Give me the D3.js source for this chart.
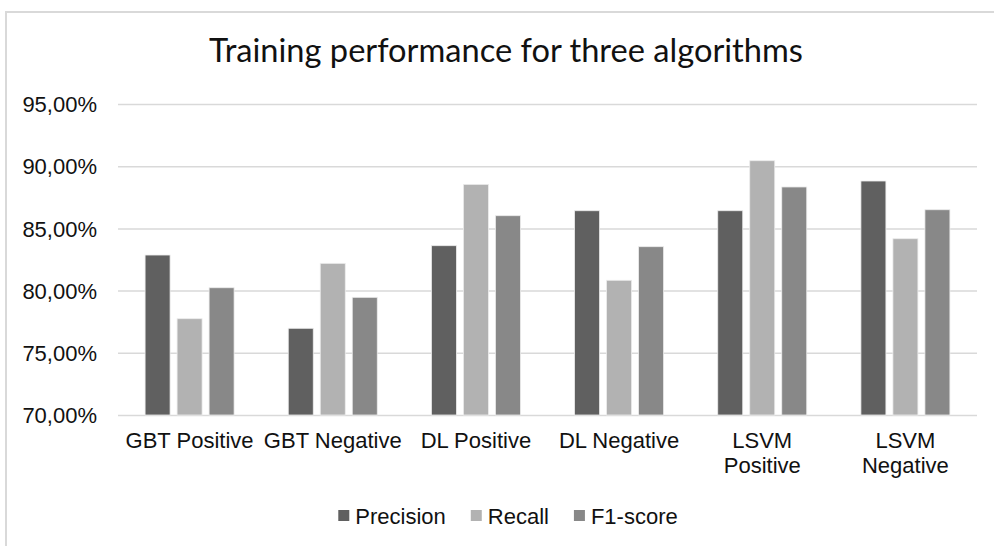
<!DOCTYPE html>
<html>
<head>
<meta charset="utf-8">
<script src="https://cdn.jsdelivr.net/npm/d3@7"></script>
<style>
  html, body { margin: 0; padding: 0; background: #fff; }
  svg { display: block; }
</style>
</head>
<body>
<svg id="chart" width="994" height="546"></svg>
<script>
const categories = [["GBT Positive"], ["GBT Negative"], ["DL Positive"], ["DL Negative"], ["LSVM", "Positive"], ["LSVM", "Negative"]];
const seriesNames = ["Precision", "Recall", "F1-score"];
const precision = [82.86, 76.97, 83.61, 86.42, 86.42, 88.81];
const recall    = [77.74, 82.19, 88.54, 80.83, 90.44, 84.17];
const f1score   = [80.23, 79.46, 86.02, 83.53, 88.33, 86.50];
const yTicks = [70, 75, 80, 85, 90, 95];
const colors = ["#606060", "#b2b2b2", "#888888"];
const titleText = "Training performance for three algorithms";

const seriesValues = [precision, recall, f1score];
const catKeys = categories.map(c => c.join(" "));
const rows = catKeys.map((k, i) => ({ key: k, lines: categories[i], values: seriesNames.map((s, j) => ({ series: s, value: seriesValues[j][i], color: colors[j] })) }));

const svg = d3.select("#chart");
const plot = { left: 118, right: 977, top: 104, bottom: 415 };

// outer frame
svg.append("line").attr("x1", 5).attr("x2", 994).attr("y1", 12).attr("y2", 12).attr("stroke", "#d9d9d9").attr("stroke-width", 2);
svg.append("line").attr("x1", 6).attr("x2", 6).attr("y1", 12).attr("y2", 546).attr("stroke", "#d9d9d9").attr("stroke-width", 2);

const y = d3.scaleLinear().domain([70, 95]).range([plot.bottom, plot.top]);
const x0 = d3.scaleBand().domain(catKeys).range([plot.left, plot.right]).padding(0);
const x1 = d3.scaleBand().domain(seriesNames).range([-44.5, 44.5]).paddingInner(0.219).paddingOuter(0);

const fmt = v => d3.format(".2f")(v).replace(".", ",") + "%";

// gridlines
const yAxis = d3.axisLeft(y).tickValues(yTicks).tickSize(-(plot.right - plot.left)).tickFormat(fmt).tickPadding(21);
const gy = svg.append("g").attr("transform", `translate(${plot.left},0)`).call(yAxis);
gy.select(".domain").remove();
gy.selectAll(".tick line").attr("stroke", "#d9d9d9").attr("stroke-width", 1.5);
gy.selectAll(".tick text").attr("font-family", "'Liberation Sans', Arial, sans-serif").attr("font-size", 22).attr("fill", "#111").attr("dy", "0.35em");

// bars
const groups = svg.append("g").selectAll("g").data(rows).join("g")
  .attr("transform", d => `translate(${x0(d.key) + x0.bandwidth() / 2},0)`);
groups.selectAll("rect").data(d => d.values).join("rect")
  .attr("x", d => x1(d.series))
  .attr("width", x1.bandwidth())
  .attr("y", d => y(d.value))
  .attr("height", d => y(70) - y(d.value))
  .attr("fill", d => d.color)
  .attr("stroke", "#ececec")
  .attr("stroke-width", 0.8);

// category labels
const xl = svg.append("g");
rows.forEach(r => {
  const t = xl.append("text")
    .attr("x", x0(r.key) + x0.bandwidth() / 2)
    .attr("y", 448)
    .attr("text-anchor", "middle")
    .attr("font-family", "'Liberation Sans', Arial, sans-serif")
    .attr("font-size", 22)
    .attr("fill", "#111");
  r.lines.forEach((ln, i) => {
    t.append("tspan").attr("x", x0(r.key) + x0.bandwidth() / 2).attr("dy", i === 0 ? 0 : 25).text(ln);
  });
});

// title
const title = svg.append("text")
  .attr("x", 506).attr("y", 62)
  .attr("text-anchor", "middle")
  .attr("font-family", "Lato, 'Open Sans', sans-serif")
  .attr("font-size", 28)
  .attr("fill", "#111")
  .text(titleText);
const tw = title.node().getComputedTextLength();
title.attr("font-size", 28 * 594 / tw);

// legend
const legend = svg.append("g");
let lx = 0;
const items = seriesNames.map((s, i) => {
  const g = legend.append("g");
  g.append("rect").attr("x", 0).attr("y", -6).attr("width", 11).attr("height", 11).attr("fill", colors[i]);
  const t = g.append("text").attr("x", 17).attr("y", 0).attr("dy", "0.35em")
    .attr("font-family", "'Liberation Sans', Arial, sans-serif").attr("font-size", 22).attr("fill", "#111").text(s);
  const w = 17 + t.node().getComputedTextLength();
  g.attr("transform", `translate(${lx},0)`);
  lx += w + 25;
  return w;
});
const totalW = lx - 25;
legend.attr("transform", `translate(${508 - totalW / 2},516)`);
</script>
</body>
</html>
